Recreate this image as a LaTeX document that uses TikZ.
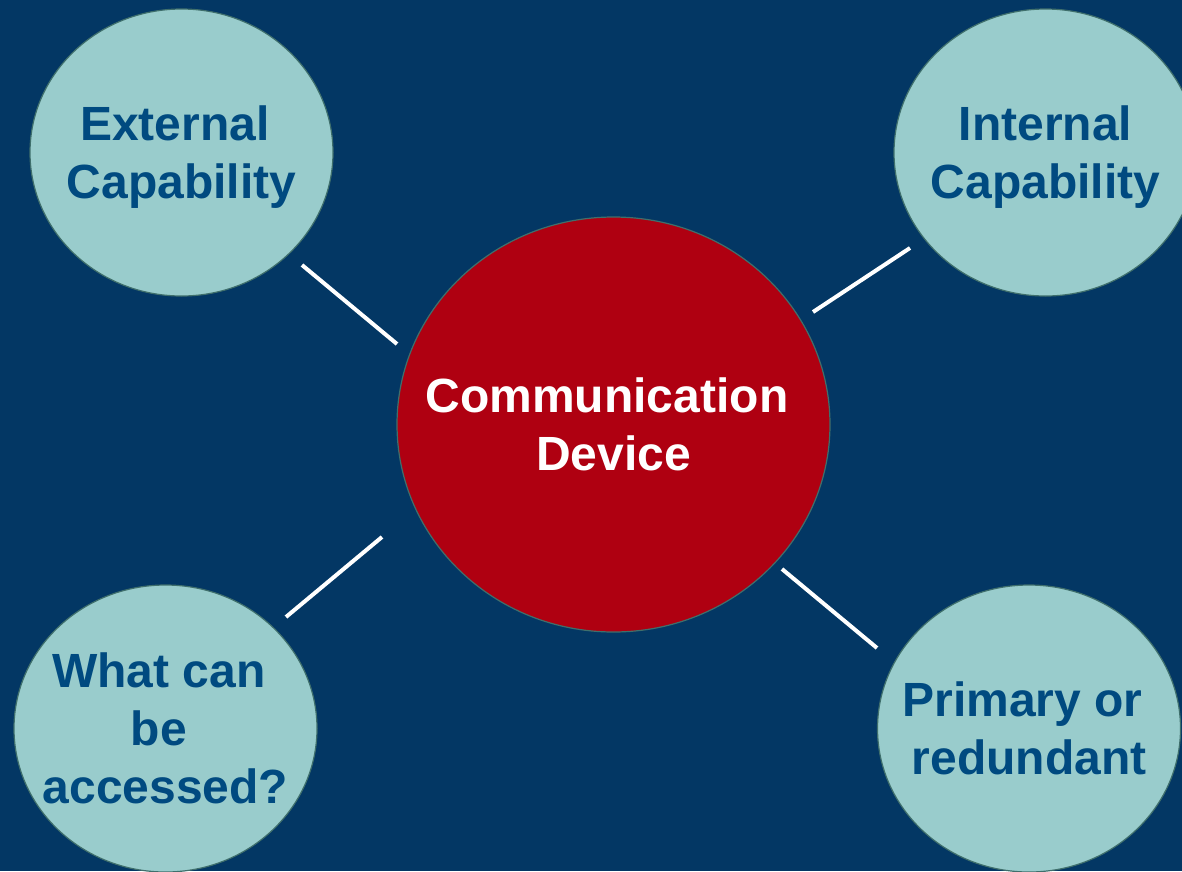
\documentclass[tikz,border=0pt]{standalone}
\usepackage{fontspec}
\setmainfont{Liberation Sans}
\usetikzlibrary{shapes.geometric}
\definecolor{bgblue}{HTML}{033764}
\definecolor{bubblefill}{HTML}{99CCCC}
\definecolor{bubbletext}{HTML}{004A80}
\definecolor{hubred}{HTML}{AF0011}
\definecolor{rimcol}{HTML}{3F6F6C}
\begin{document}
\begin{tikzpicture}[x=1pt,y=-1pt,
  bubble/.style={ellipse, draw=rimcol, line width=1.2pt, fill=bubblefill,
    minimum width=303pt, minimum height=287pt, inner sep=0pt},
  hub/.style={ellipse, draw=rimcol, line width=1.2pt, fill=hubred,
    minimum width=433pt, minimum height=415pt, inner sep=0pt},
  bubbletxt/.style={align=center, inner sep=0pt, text=bubbletext,
    font=\bfseries\fontsize{48}{58}\selectfont},
  hubtxt/.style={align=center, inner sep=0pt, text=white,
    font=\bfseries\fontsize{48}{58}\selectfont},
  link/.style={draw=white, line width=4pt}]
\useasboundingbox (0,0) rectangle (1182,871);
\clip (0,0) rectangle (1182,871);
\fill[bgblue] (0,0) rectangle (1182,871);

\node[hub] (hub) at (613.5,424.5) {};
\node[hubtxt] (hubt) at (hub.center) {Communication\kern13pt\\Device};
\node[bubble] (ext) at (181.5,152.5) {};
\node[bubbletxt, yshift=-5pt] (extt) at (ext.center) {External\kern13pt\\Capability};
\node[bubble] (int) at (1045.5,152.5) {};
\node[bubbletxt, yshift=-5pt] (intt) at (int.center) {Internal\\Capability};
\node[bubble] (acc) at (165.5,728.5) {};
\node[bubbletxt] (acct) at (acc.center) {What can\kern13pt\\be\kern13pt\\accessed?};
\node[bubble] (pri) at (1029,728.5) {};
\node[bubbletxt] (prit) at (pri.center) {Primary or\kern13pt\\redundant};

\coordinate (e1) at (302,265);
\coordinate (h1) at (397,344);
\coordinate (h2) at (813,312);
\coordinate (i1) at (910,248);
\coordinate (a1) at (286,617);
\coordinate (h3) at (382,537);
\coordinate (h4) at (782,569);
\coordinate (p1) at (877,648);

\draw[link] (e1) -- (h1);
\draw[link] (h2) -- (i1);
\draw[link] (a1) -- (h3);
\draw[link] (h4) -- (p1);
\end{tikzpicture}
\end{document}
